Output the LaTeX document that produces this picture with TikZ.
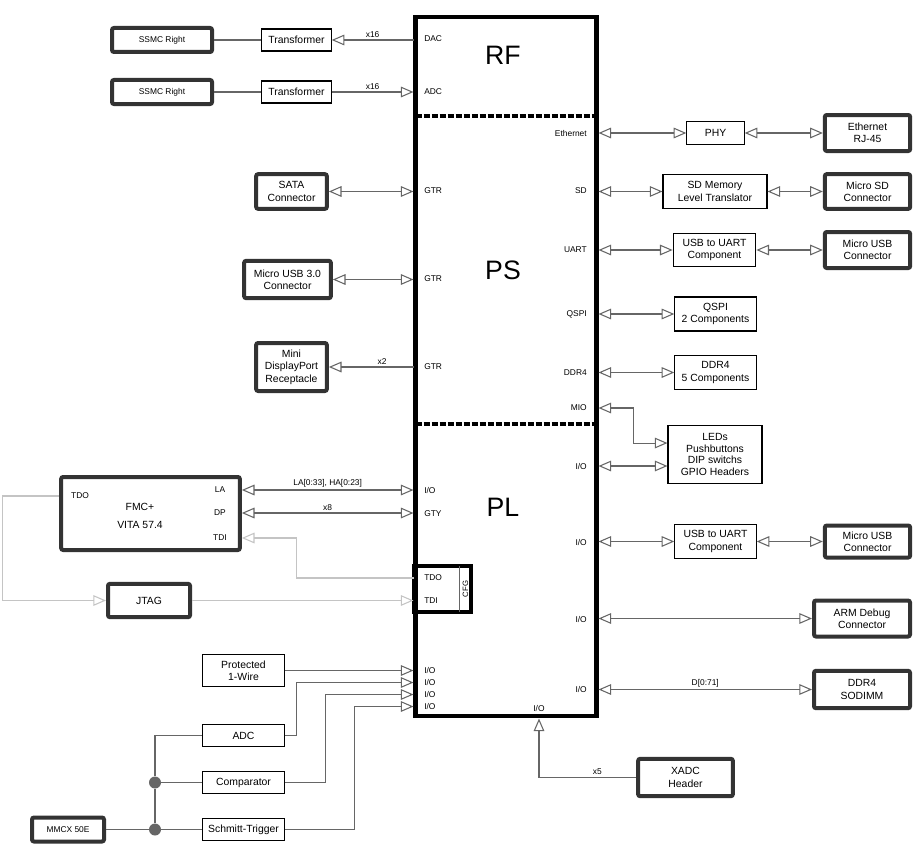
\documentclass[tikz,border=0pt]{standalone}
\usepackage{fontspec}
\setmainfont{Liberation Sans}
\usepackage{tikz}
\usetikzlibrary{arrows.meta}

\newcommand{\boxfont}{\fontsize{7.8}{9.3}\selectfont}
\newcommand{\pinfont}{\fontsize{6.3}{7.5}\selectfont}
\newcommand{\blockfont}{\fontsize{20}{22}\selectfont}

\definecolor{wirecol}{HTML}{666666}
\definecolor{jtagcol}{HTML}{C4C4C4}
\definecolor{edgecol}{HTML}{333333}

\tikzset{
	box/.style={draw=black, line width=0.8pt, font=\boxfont, align=center, inner sep=0pt},
	conbox/.style={box, draw=edgecol, line width=3pt, rounded corners=1.5pt},
	pin/.style={font=\pinfont, inner sep=0pt},
	wire/.style={draw=wirecol, line width=0.8pt},
	jtagwire/.style={draw=jtagcol, line width=0.8pt},
	onearrow/.style={-{Triangle[open, length=9.5pt, width=8pt]}},
	twoarrow/.style={{Triangle[open, length=9.5pt, width=8pt]}-{Triangle[open, length=9.5pt, width=8pt]}},
	tag/.style={font=\pinfont, inner sep=1.5pt, above},
	divider/.style={line width=3.4pt, dash pattern=on 4.5pt off 1.5pt},
	jdot/.style={circle, fill=wirecol, inner sep=0pt, minimum size=9pt},
}

\begin{document}
\begin{tikzpicture}[x=0.75pt, y=-0.75pt]
	\useasboundingbox (0,0) rectangle (917,849);
	
	% main device
	\node[draw, line width=3.4pt, minimum width=135.75pt, minimum height=524.25pt, inner sep=0pt, outer sep=0pt] (fpga) at (506,366.5) {};
	\draw[divider] (fpga.west |- 0,116) -- (fpga.east |- 0,116);
	\draw[divider] (fpga.west |- 0,424) -- (fpga.east |- 0,424);
	\node[font=\blockfont] (rf) at (503,55) {RF};
	\node[font=\blockfont] (ps) at (503,270) {PS};
	\node[font=\blockfont] (pl) at (503,507) {PL};
	
	\node[draw, line width=3pt, minimum width=42.75pt, minimum height=34.5pt, inner sep=0pt, outer sep=0pt] (cfg) at (442.5,589) {};
	\draw[draw=wirecol, line width=0.6pt] ([xshift=-8.5pt]cfg.north east) -- ([xshift=-8.5pt]cfg.south east);
	\node[pin, font=\fontsize{5.8}{7}\selectfont, rotate=90] (cfglbl) at (465.5,589) {CFG};
	
	% pins, left
	\coordinate (pdac) at (413.5,40);
	\coordinate (padc) at (413.5,92);
	\coordinate (pgtra) at (413.5,191.5);
	\coordinate (pgtrb) at (413.5,279.5);
	\coordinate (pgtrc) at (413.5,367);
	\coordinate (pio) at (413.5,490);
	\coordinate (pgty) at (413.5,513);
	\coordinate (ptdo) at (413.5,578);
	\coordinate (ptdi) at (413.5,600.5);
	\coordinate (pioa) at (413.5,670.5);
	\coordinate (piob) at (413.5,682.5);
	\coordinate (pioc) at (413.5,694.5);
	\coordinate (piod) at (413.5,706.5);
	
	\node[pin, anchor=west] (ldac) at (424,39) {DAC};
	\node[pin, anchor=west] (ladc) at (424,92) {ADC};
	\node[pin, anchor=west] (lgtra) at (424,191) {GTR};
	\node[pin, anchor=west] (lgtrb) at (424,279) {GTR};
	\node[pin, anchor=west] (lgtrc) at (424,367) {GTR};
	\node[pin, anchor=west] (lio) at (424,490) {I/O};
	\node[pin, anchor=west] (lgty) at (424,514) {GTY};
	\node[pin, anchor=west] (ltdo) at (424,578) {TDO};
	\node[pin, anchor=west] (ltdi) at (424,601) {TDI};
	\node[pin, anchor=west] (lioa) at (424,670.5) {I/O};
	\node[pin, anchor=west] (liob) at (424,682.5) {I/O};
	\node[pin, anchor=west] (lioc) at (424,694.5) {I/O};
	\node[pin, anchor=west] (liod) at (424,706.5) {I/O};
	
	% pins, right
	\coordinate (peth) at (598.5,133);
	\coordinate (psd) at (598.5,191.5);
	\coordinate (puart) at (598.5,250);
	\coordinate (pqspi) at (598.5,314);
	\coordinate (pddr) at (598.5,372.5);
	\coordinate (pmio) at (598.5,408);
	\coordinate (pio1) at (598.5,466);
	\coordinate (pio2) at (598.5,541.5);
	\coordinate (pio3) at (598.5,618.5);
	\coordinate (pio4) at (598.5,689.5);
	\coordinate (pxadc) at (539,718.5);
	
	\node[pin, anchor=east] (leth) at (587,133) {Ethernet};
	\node[pin, anchor=east] (lsd) at (587,191) {SD};
	\node[pin, anchor=east] (luart) at (587,250) {UART};
	\node[pin, anchor=east] (lqspi) at (587,314) {QSPI};
	\node[pin, anchor=east] (lddr) at (587,373) {DDR4};
	\node[pin, anchor=east] (lmio) at (587,408) {MIO};
	\node[pin, anchor=east] (lio1) at (587,466) {I/O};
	\node[pin, anchor=east] (lio2) at (587,542) {I/O};
	\node[pin, anchor=east] (lio3) at (587,619) {I/O};
	\node[pin, anchor=east] (lio4) at (587,689) {I/O};
	\node[pin] (lxadc) at (539,708) {I/O};
	
	% RF converters
	\node[conbox, font=\pinfont, minimum width=75pt, minimum height=18pt] (ssmca) at (162,40) {SSMC Right};
	\node[box, minimum width=52pt, minimum height=16.5pt] (trfa) at (296.5,40) {Transformer};
	\node[conbox, font=\pinfont, minimum width=75pt, minimum height=18pt] (ssmcb) at (162,92) {SSMC Right};
	\node[box, minimum width=52pt, minimum height=16.5pt] (trfb) at (296.5,92) {Transformer};
	\draw[wire] (ssmca) -- (trfa);
	\draw[wire, onearrow] (pdac) -- node[tag] (x16a) {x16} (trfa);
	\draw[wire] (ssmcb) -- (trfb);
	\draw[wire, onearrow] (trfb) -- node[tag] (x16b) {x16} (padc);
	
	% GTR
	\node[conbox, minimum width=53pt, minimum height=26pt] (sata) at (291.5,191.5) {SATA\\Connector};
	\node[conbox, minimum width=65pt, minimum height=28pt] (usb3) at (287.5,279.5) {Micro USB 3.0\\Connector};
	\node[conbox, minimum width=53pt, minimum height=36pt] (minidp) at (291.5,367) {Mini\\DisplayPort\\Receptacle};
	\draw[wire, twoarrow] (sata) -- (pgtra);
	\draw[wire, twoarrow] (usb3) -- (pgtrb);
	\draw[wire, onearrow] (pgtrc) -- node[tag, pos=0.37] (x2) {x2} (minidp);
	
	% FMC and JTAG
	\node[conbox, minimum width=134pt, minimum height=54.75pt] (fmc) at (150.5,513.5) {};
	\node[pin] (ftdo) at (80,496) {TDO};
	\node[pin] (fla) at (220,490) {LA};
	\node[pin] (fdp) at (220,513) {DP};
	\node[pin] (ftdi) at (220,538) {TDI};
	\node[font=\boxfont, align=center] (fmcname) at (140,516) {FMC+\\[4pt]VITA 57.4};
	\draw[wire, twoarrow] (fmc.east |- pio) -- node[tag] (labus) {LA[0:33], HA[0:23]} (pio);
	\draw[wire, twoarrow] (fmc.east |- pgty) -- node[tag] (x8) {x8} (pgty);
	
	\node[conbox, minimum width=61.5pt, minimum height=25pt] (jtag) at (149,600.5) {JTAG};
	\draw[jtagwire, onearrow] (ptdo) -- ++(-117,0) |- (fmc.east |- ftdi);
	\draw[jtagwire, onearrow] (fmc.west |- ftdo) -- ++(-57,0) |- (jtag.west);
	\draw[jtagwire, onearrow] (jtag) -- (ptdi);
	
	% analog inputs
	\node[box, minimum width=61pt, minimum height=24pt] (onewire) at (243.5,670.5) {Protected\\1-Wire};
	\node[box, minimum width=61pt, minimum height=17pt] (adcb) at (243.5,735.5) {ADC};
	\node[box, minimum width=61pt, minimum height=17pt] (cmp) at (243.5,782.5) {Comparator};
	\node[box, minimum width=61pt, minimum height=17pt] (schmitt) at (243.5,829.5) {Schmitt-Trigger};
	\node[conbox, font=\pinfont, minimum width=54pt, minimum height=18pt] (mmcx) at (68,829.5) {MMCX 50E};
	\node[jdot] (ja) at (155,782.5) {};
	\node[jdot] (jb) at (155,829.5) {};
	\draw[wire] (mmcx) -- (jb) -- (schmitt);
	\draw[wire] (jb) -- (ja) -- (cmp);
	\draw[wire] (ja) |- (adcb);
	\draw[wire, onearrow] (onewire) -- (pioa);
	\draw[wire, onearrow] (adcb.east) -- ++(12,0) |- (piob);
	\draw[wire, onearrow] (cmp.east) -- ++(41,0) |- (pioc);
	\draw[wire, onearrow] (schmitt.east) -- ++(70,0) |- (piod);
	
	% PS peripherals
	\node[box, minimum width=43pt, minimum height=17pt] (phy) at (715.5,133) {PHY};
	\node[conbox, minimum width=64pt, minimum height=27pt] (rj45) at (867.5,133) {Ethernet\\RJ-45};
	\draw[wire, twoarrow] (peth) -- (phy);
	\draw[wire, twoarrow] (phy) -- (rj45);
	
	\node[box, minimum width=78pt, minimum height=26pt] (sdlt) at (715,191.5) {SD Memory\\Level Translator};
	\node[conbox, minimum width=64pt, minimum height=26pt] (microsd) at (867.5,191.5) {Micro SD\\Connector};
	\draw[wire, twoarrow] (psd) -- (sdlt);
	\draw[wire, twoarrow] (sdlt) -- (microsd);
	
	\node[box, minimum width=62pt, minimum height=25pt] (uarta) at (714.5,250) {USB to UART\\Component};
	\node[conbox, minimum width=64pt, minimum height=27pt] (musba) at (867.5,250) {Micro USB\\Connector};
	\draw[wire, twoarrow] (puart) -- (uarta);
	\draw[wire, twoarrow] (uarta) -- (musba);
	
	\node[box, minimum width=61pt, minimum height=25.5pt] (qspi) at (715.5,314) {QSPI\\2 Components};
	\draw[wire, twoarrow] (pqspi) -- (qspi);
	\node[box, minimum width=61pt, minimum height=26pt] (ddr) at (715.5,372.5) {DDR4\\5 Components};
	\draw[wire, twoarrow] (pddr) -- (ddr);
	
	% PL peripherals
	\node[box, minimum width=70.5pt, minimum height=44pt, font=\fontsize{7.8}{8.7}\selectfont] (leds) at (715,454.5) {LEDs\\Pushbuttons\\DIP switchs\\GPIO Headers};
	\draw[wire, twoarrow] (pmio) -- ++(35,0) |- ([yshift=8.6pt]leds.west);
	\draw[wire, twoarrow] (pio1) -- (leds.west |- pio1);
	
	\node[box, minimum width=61pt, minimum height=25.5pt] (uartb) at (715.5,541.5) {USB to UART\\Component};
	\node[conbox, minimum width=64pt, minimum height=24pt] (musbb) at (867.5,541.5) {Micro USB\\Connector};
	\draw[wire, twoarrow] (pio2) -- (uartb);
	\draw[wire, twoarrow] (uartb) -- (musbb);
	
	\node[conbox, minimum width=72pt, minimum height=27pt] (armdbg) at (862,618.5) {ARM Debug\\Connector};
	\draw[wire, twoarrow] (pio3) -- (armdbg);
	\node[conbox, minimum width=72pt, minimum height=28pt] (sodimm) at (862,689.5) {DDR4\\SODIMM};
	\draw[wire, twoarrow] (pio4) -- node[tag] (dbus) {D[0:71]} (sodimm);
	
	\node[conbox, minimum width=71pt, minimum height=28pt] (xadc) at (685.5,777.5) {XADC\\Header};
	\draw[wire, onearrow] (xadc) -- node[tag, pos=0.4] (x5) {x5} (xadc.west -| pxadc) -- (pxadc);
\end{tikzpicture}
\end{document}
